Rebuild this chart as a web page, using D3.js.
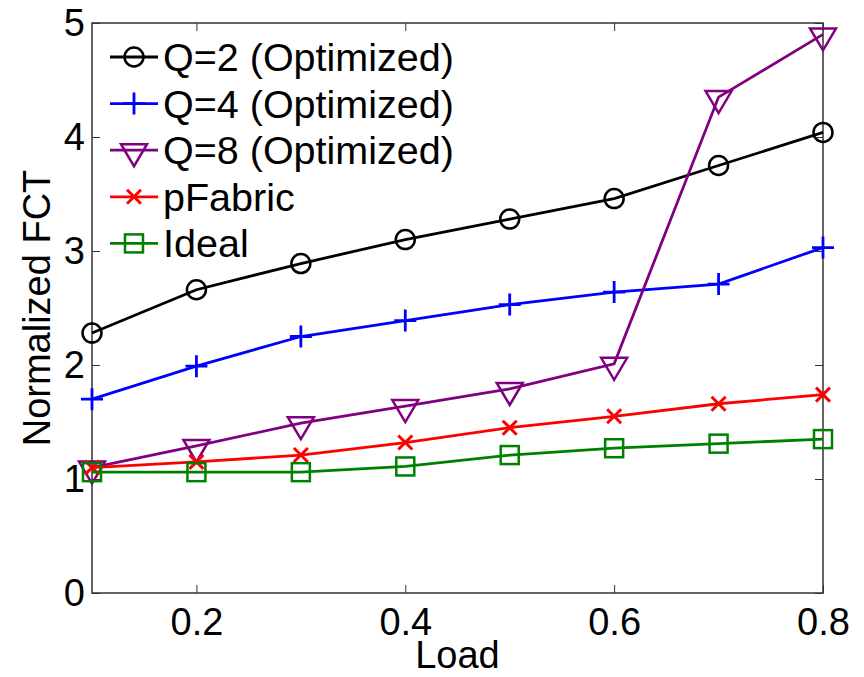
<!DOCTYPE html>
<html>
<head>
<meta charset="utf-8">
<script src="https://cdn.jsdelivr.net/npm/d3@7"></script>
<style>
  body { margin: 0; background: #fff; }
  svg { font-family: "Liberation Sans", Arial, sans-serif; }
</style>
</head>
<body>
<svg id="chart" width="864" height="677"></svg>
<script>
// --------------------------
// DATA
// --------------------------
const loads = [0.1, 0.2, 0.3, 0.4, 0.5, 0.6, 0.7, 0.8];
const q2 = [2.28, 2.66, 2.89, 3.10, 3.28, 3.46, 3.75, 4.04];
const q4 = [1.70, 1.99, 2.25, 2.39, 2.53, 2.64, 2.71, 3.03];
const q8 = [1.10, 1.29, 1.49, 1.64, 1.79, 2.01, 4.35, 4.90];
const pfabric = [1.10, 1.15, 1.21, 1.32, 1.45, 1.55, 1.66, 1.74];
const ideal = [1.06, 1.06, 1.06, 1.11, 1.21, 1.27, 1.31, 1.35];
const xTicks = [0.2, 0.4, 0.6, 0.8];
const yTicks = [0, 1, 2, 3, 4, 5];

const series = [
    { name: "Q=2 (Optimized)", values: q2, color: "#000000", marker: "circle" },
    { name: "Q=4 (Optimized)", values: q4, color: "#0000ff", marker: "plus" },
    { name: "Q=8 (Optimized)", values: q8, color: "#800080", marker: "triangle" },
    { name: "pFabric", values: pfabric, color: "#ff0000", marker: "cross" },
    { name: "Ideal", values: ideal, color: "#008000", marker: "square" }
];

// --------------------------
// SETUP
// --------------------------
const svg = d3.select("#chart");
const margin = { top: 23, right: 41, bottom: 84, left: 92 };
const width = 864, height = 677;
const fontSize = 38;

const x = d3.scaleLinear().domain([0.1, 0.8]).range([margin.left, width - margin.right]);
const y = d3.scaleLinear().domain([0, 5]).range([height - margin.bottom, margin.top]);

// draw a marker centred on (0,0)
function drawMarker(g, type, color) {
    if (type === "circle") {
        g.append("circle").attr("r", 9.5).attr("fill", "none")
            .attr("stroke", color).attr("stroke-width", 2.5);
    } else if (type === "plus") {
        g.append("path").attr("d", "M-11,0H11M0,-11V11")
            .attr("stroke", color).attr("stroke-width", 2.8);
    } else if (type === "triangle") {
        g.append("path").attr("d", "M-13,-6L13,-6L0,16Z").attr("fill", "none")
            .attr("stroke", color).attr("stroke-width", 2.5);
    } else if (type === "cross") {
        g.append("path").attr("d", "M-7,-7L7,7M-7,7L7,-7")
            .attr("stroke", color).attr("stroke-width", 3);
    } else if (type === "square") {
        g.append("rect").attr("x", -9).attr("y", -9).attr("width", 18).attr("height", 18)
            .attr("fill", "none").attr("stroke", color).attr("stroke-width", 2.5);
    }
}

// --------------------------
// AXES (ticks inside, box)
// --------------------------
const axisStyle = g => {
    g.select(".domain").remove();
    g.selectAll(".tick line").attr("stroke", "#333");
    g.selectAll(".tick text").attr("font-size", fontSize).attr("fill", "#000");
};

svg.append("g")
    .attr("transform", `translate(0,${height - margin.bottom})`)
    .call(d3.axisBottom(x).tickValues(xTicks).tickSize(-8).tickPadding(15).tickFormat(d3.format(".1f")))
    .call(axisStyle);

svg.append("g")
    .attr("transform", `translate(0,${margin.top})`)
    .call(d3.axisTop(x).tickValues(xTicks).tickSize(-8).tickFormat(""))
    .call(axisStyle);

svg.append("g")
    .attr("transform", `translate(${margin.left},0)`)
    .call(d3.axisLeft(y).tickValues(yTicks).tickSize(-8).tickPadding(7).tickFormat(d3.format("d")))
    .call(axisStyle);

svg.append("g")
    .attr("transform", `translate(${width - margin.right},0)`)
    .call(d3.axisRight(y).tickValues(yTicks).tickSize(-8).tickFormat(""))
    .call(axisStyle);

svg.append("rect")
    .attr("x", margin.left).attr("y", margin.top)
    .attr("width", width - margin.left - margin.right)
    .attr("height", height - margin.top - margin.bottom)
    .attr("fill", "none").attr("stroke", "#333").attr("stroke-width", 1.5);

svg.append("text")
    .attr("x", (margin.left + width - margin.right) / 2)
    .attr("y", 668)
    .attr("text-anchor", "middle")
    .attr("font-size", fontSize)
    .text("Load");

svg.append("text")
    .attr("transform", "rotate(-90)")
    .attr("x", -(margin.top + height - margin.bottom) / 2)
    .attr("y", 50)
    .attr("text-anchor", "middle")
    .attr("font-size", fontSize)
    .text("Normalized FCT");

// --------------------------
// LINES + MARKERS
// --------------------------
const line = d3.line()
    .x((d, i) => x(loads[i]))
    .y(d => y(d));

series.forEach(s => {
    svg.append("path")
        .datum(s.values)
        .attr("d", line)
        .attr("fill", "none")
        .attr("stroke", s.color)
        .attr("stroke-width", 2.8);

    s.values.forEach((v, i) => {
        const g = svg.append("g").attr("transform", `translate(${x(loads[i])},${y(v)})`);
        drawMarker(g, s.marker, s.color);
    });
});

// --------------------------
// LEGEND
// --------------------------
const legend = svg.append("g");
series.forEach((s, i) => {
    const ly = 57 + i * 46.6;
    legend.append("line")
        .attr("x1", 110).attr("x2", 158)
        .attr("y1", ly).attr("y2", ly)
        .attr("stroke", s.color).attr("stroke-width", 2.8);
    const g = legend.append("g").attr("transform", `translate(134,${ly})`);
    drawMarker(g, s.marker, s.color);
    legend.append("text")
        .attr("x", 163).attr("y", ly + 14)
        .attr("font-size", 39.5)
        .text(s.name);
});
</script>
</body>
</html>
